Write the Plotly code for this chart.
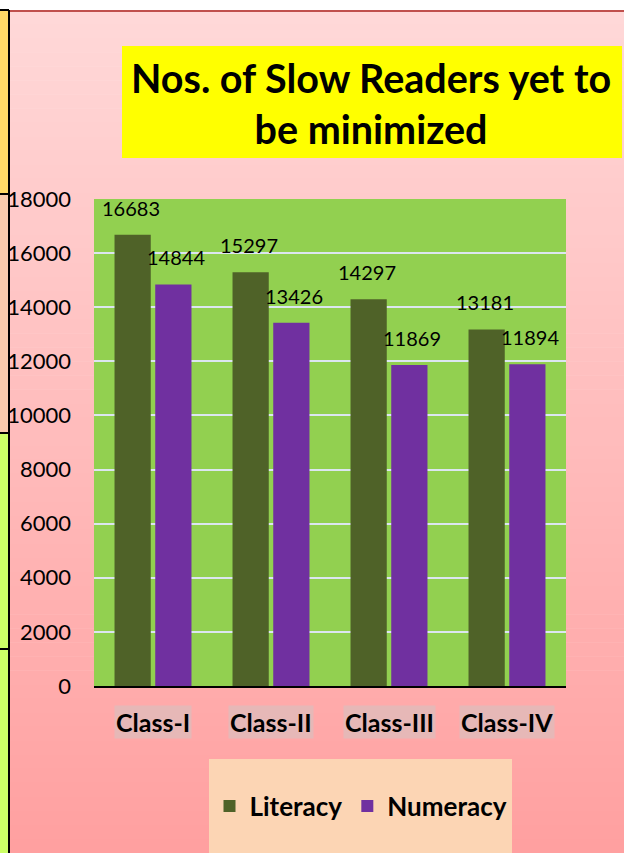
import plotly.graph_objects as go

# ---------------- data ----------------
categories = ["Class-I", "Class-II", "Class-III", "Class-IV"]
literacy = [16683, 15297, 14297, 13181]
numeracy = [14844, 13426, 11869, 11894]
series_names = ["Literacy", "Numeracy"]
y_ticks = [0, 2000, 4000, 6000, 8000, 10000, 12000, 14000, 16000, 18000]
title_text = "Nos. of Slow Readers yet to<br>be minimized"

# ---------------- layout geometry (pixels) ----------------
W, H = 624, 853
PL, PR, PT, PB = 94, 566, 199, 686  # plot area


def px(x):
    return (x - PL) / (PR - PL)


def py(y):
    return (PB - y) / (PB - PT)


FONT = "Lato"
LIT_COLOR = "#4F6228"
NUM_COLOR = "#7030A0"

fig = go.Figure()
fig.add_trace(go.Bar(x=categories, y=literacy, name="<b>" + series_names[0] + "</b>",
                     marker=dict(color=LIT_COLOR, line=dict(width=0))))
fig.add_trace(go.Bar(x=categories, y=numeracy, name="<b>" + series_names[1] + "</b>",
                     marker=dict(color=NUM_COLOR, line=dict(width=0))))

shapes = []
# background gradient bands
top_c = (255, 216, 216)
bot_c = (255, 160, 160)
n = 60
y0 = 10
for i in range(n):
    ya = y0 + (H - y0) * i / n
    yb = y0 + (H - y0) * (i + 1) / n + 0.5
    t = (i + 0.5) / n
    c = tuple(round(top_c[k] + (bot_c[k] - top_c[k]) * t) for k in range(3))
    shapes.append(dict(type="rect", xref="paper", yref="paper", layer="below",
                       x0=px(0), x1=px(W + 2), y0=py(yb), y1=py(ya),
                       line=dict(width=0), fillcolor="rgb(%d,%d,%d)" % c))
# white top strip
shapes.append(dict(type="rect", xref="paper", yref="paper", layer="below",
                   x0=px(0), x1=px(W + 2), y0=py(10), y1=py(-2),
                   line=dict(width=0), fillcolor="white"))
# red top line
shapes.append(dict(type="line", xref="paper", yref="paper", layer="below",
                   x0=px(9), x1=px(W + 2), y0=py(11), y1=py(11),
                   line=dict(width=2, color="#C0504D")))
# left colored strip
strip = [(10, 194, "#FFD966"), (194, 433, "#F8CBAD"), (433, 649, "#CCFF66"), (649, H + 2, "#CCFF66")]
for (a, b, col) in strip:
    shapes.append(dict(type="rect", xref="paper", yref="paper", layer="below",
                       x0=px(-2), x1=px(8.5), y0=py(b), y1=py(a),
                       line=dict(width=0), fillcolor=col))
    shapes.append(dict(type="line", xref="paper", yref="paper", layer="below",
                       x0=px(-2), x1=px(9), y0=py(a), y1=py(a),
                       line=dict(width=2, color="black")))
shapes.append(dict(type="line", xref="paper", yref="paper", layer="below",
                   x0=px(9), x1=px(9), y0=py(H + 2), y1=py(10),
                   line=dict(width=2, color="black")))
# green plot area
shapes.append(dict(type="rect", xref="paper", yref="paper", layer="below",
                   x0=0, x1=1, y0=0, y1=1, line=dict(width=0), fillcolor="#92D050"))
# title box
shapes.append(dict(type="rect", xref="paper", yref="paper", layer="below",
                   x0=px(122), x1=px(622), y0=py(158), y1=py(46),
                   line=dict(width=0), fillcolor="#FFFF00"))
# legend box
shapes.append(dict(type="rect", xref="paper", yref="paper", layer="below",
                   x0=px(209), x1=px(512), y0=py(H + 2), y1=py(759),
                   line=dict(width=0), fillcolor="#FCD5B4"))

annotations = []
annotations.append(dict(text="<b>" + title_text + "</b>", xref="paper", yref="paper",
                        x=px(371), y=py(103), xanchor="center", yanchor="middle",
                        showarrow=False, font=dict(family=FONT, size=39.5, color="black")))
# category labels with background boxes
for c in categories:
    annotations.append(dict(text="<b>" + c + "</b>", x=c, xref="x", y=py(722), yref="paper",
                            xanchor="center", yanchor="middle", showarrow=False,
                            bgcolor="#E6B8B7", borderpad=1,
                            font=dict(family=FONT, size=25, color="black")))
# data labels
for vals, shift in ((literacy, -22), (numeracy, 23)):
    for c, v in zip(categories, vals):
        annotations.append(dict(text=str(v), x=c, y=v, xref="x", yref="y",
                                xanchor="center", yanchor="bottom", xshift=shift, yshift=13,
                                showarrow=False,
                                font=dict(family=FONT, size=20, color="black")))

fig.update_layout(
    width=W, height=H,
    margin=dict(l=PL, r=W - PR, t=PT, b=H - PB, pad=0, autoexpand=False),
    paper_bgcolor="white",
    plot_bgcolor="rgba(0,0,0,0)",
    barmode="group", bargap=0.31, bargroupgap=0.11,
    shapes=shapes, annotations=annotations,
    showlegend=True,
    legend=dict(orientation="h", x=px(361), y=py(806), xanchor="center", yanchor="middle",
                bgcolor="rgba(0,0,0,0)", font=dict(family=FONT, size=26, color="black"),
                itemwidth=30, traceorder="normal"),
    font=dict(family=FONT),
    xaxis=dict(showticklabels=False, showgrid=False, showline=True, linecolor="black",
               linewidth=2, ticks="", zeroline=False, automargin=False),
    yaxis=dict(range=[0, 18000], tickmode="array", tickvals=y_ticks,
               ticktext=[str(v) for v in y_ticks], automargin=False,
               showgrid=True, gridcolor="#DCE6F0", gridwidth=2, zeroline=False,
               showline=False, ticks="",
               tickfont=dict(family=FONT, size=22, color="black"), ticklabelstandoff=22),
)

fig.write_html("out.html", config={"displayModeBar": False},
               post_script="document.body.style.margin='0';document.body.style.padding='0';")
